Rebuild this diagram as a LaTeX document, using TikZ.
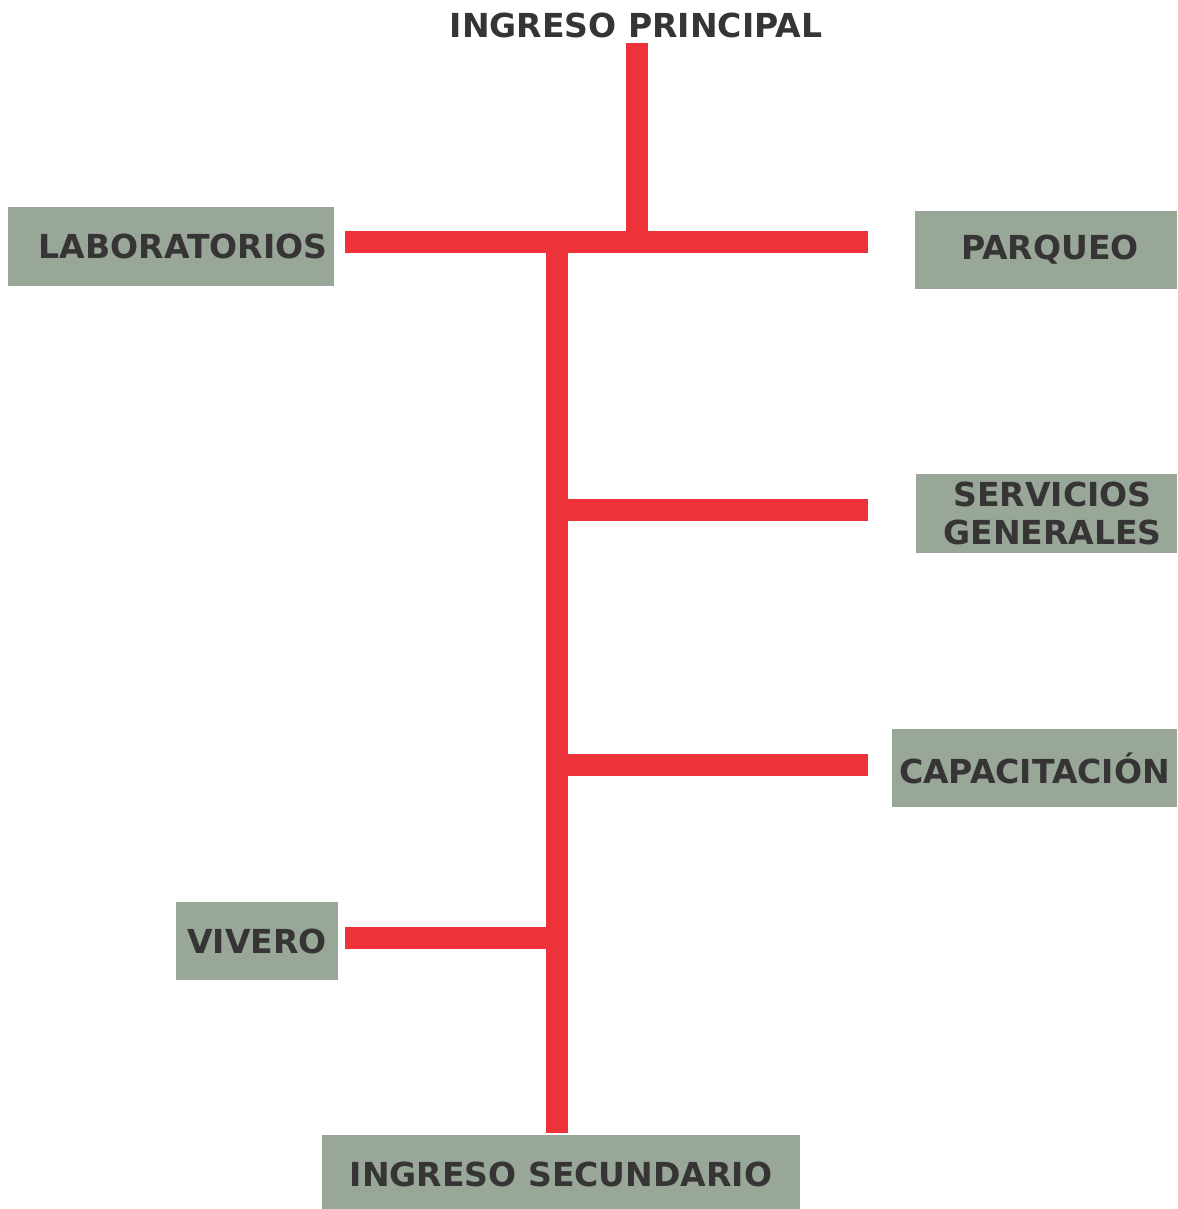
\documentclass[tikz,border=0pt]{standalone}
\usepackage{fontspec}
\setmainfont{DejaVu Sans}
\definecolor{boxgreen}{HTML}{98A797}
\definecolor{roadred}{HTML}{EE3239}
\definecolor{inkgray}{HTML}{363435}

\begin{document}
\begin{tikzpicture}[x=0.025cm,y=-0.025cm,
    area/.style={fill=boxgreen,draw=none,minimum height=1.95cm,inner sep=0pt,
        text=inkgray,font=\fontsize{23.5}{27.5}\selectfont\bfseries,align=center},
    road/.style={draw=roadred,line width=0.55cm}]
    \useasboundingbox (0,0) rectangle (1177,1209);

    % zones
    \node[text=inkgray,font=\fontsize{23.5}{27.5}\selectfont\bfseries,inner sep=4pt]
        (ip) at (636,25) {INGRESO PRINCIPAL};
    \node[area,minimum width=8.15cm]  (lab)  at (171,246.5)  {\hspace{0.6cm}LABORATORIOS};
    \node[area,minimum width=6.55cm]  (parq) at (1046,250)   {\hspace{0.2cm}PARQUEO};
    \node[area,minimum width=6.525cm] (serv) at (1046.5,513.5) {\hspace{0.3cm}SERVICIOS\\\hspace{0.3cm}GENERALES};
    \node[area,minimum width=7.125cm] (cap)  at (1034.5,768) {CAPACITACIÓN};
    \node[area,minimum width=4.05cm]  (viv)  at (257,941)    {VIVERO};
    \node[area,minimum width=11.95cm] (sec)  at (561,1174)   {INGRESO SECUNDARIO};

    %%%%%%%%%%%%%%%%%%%%%%%%%%%%%%%%%%%
    % junctions and loose ends
    \coordinate (top)    at (637,242);
    \coordinate (hub)    at (557,242);
    \coordinate (labEnd) at (345,242);
    \coordinate (parEnd) at (868,242);
    \coordinate (j1)     at (557,510);
    \coordinate (serEnd) at (868,510);
    \coordinate (j2)     at (557,765);
    \coordinate (capEnd) at (868,765);
    \coordinate (j3)     at (557,938);
    \coordinate (vivEnd) at (345,938);
    \coordinate (secEnd) at (557,1133);
    %%%%%%%%%%%%%%%%%%%%%%%%%%%%%%%%%%%

    % main axis
    \draw[road] (ip.south -| top) -- (top);
    \draw[road] (labEnd) -- (parEnd);
    \draw[road] (hub) -- (secEnd);

    % branches
    \draw[road] (j1) -- (serEnd);
    \draw[road] (j2) -- (capEnd);
    \draw[road] (vivEnd) -- (j3);
\end{tikzpicture}
\end{document}
